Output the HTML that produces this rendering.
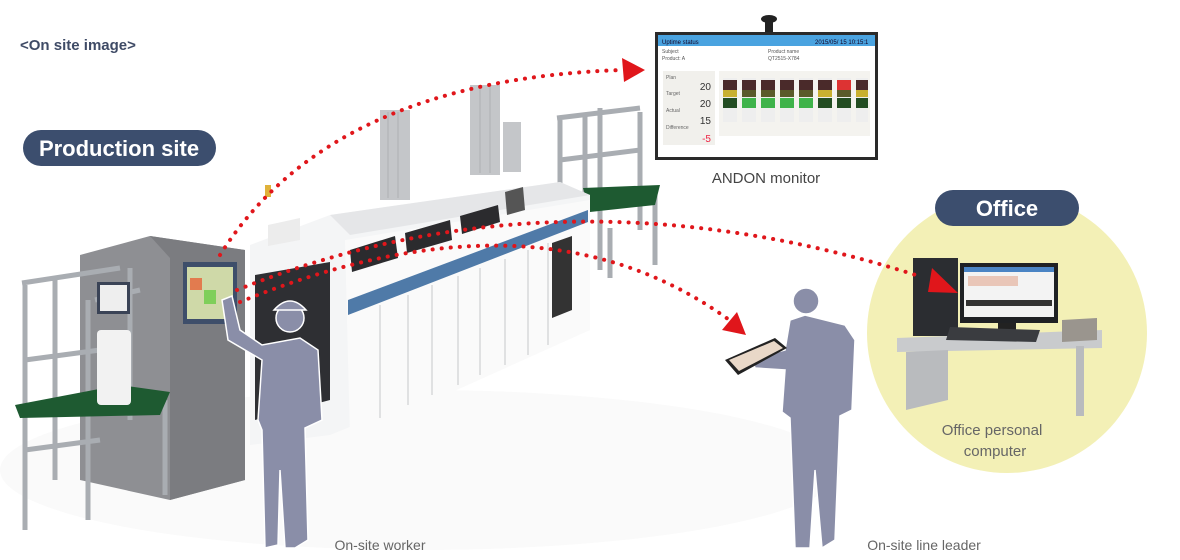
<!DOCTYPE html>
<html><head><meta charset="utf-8"><style>
html,body{margin:0;padding:0;background:#fff;}
svg{display:block;font-family:"Liberation Sans",sans-serif;}
</style></head><body>
<svg width="1180" height="560" viewBox="0 0 1180 560" xmlns="http://www.w3.org/2000/svg">
<rect width="1180" height="560" fill="#fff"/>
<ellipse cx="420" cy="470" rx="420" ry="80" fill="#fafafa"/>
<text x="20" y="50" font-size="15" font-weight="bold" fill="#3f4b66">&lt;On site image&gt;</text>
<rect x="23" y="130" width="193" height="36" rx="18" fill="#3c4e6e"/>
<text x="119" y="156" font-size="22" font-weight="bold" fill="#fff" text-anchor="middle">Production site</text>

<circle cx="1007" cy="333" r="140" fill="#f3f0b6"/>
<rect x="935" y="190" width="144" height="36" rx="18" fill="#3c4e6e"/>
<text x="1007" y="216" font-size="22" font-weight="bold" fill="#fff" text-anchor="middle">Office</text>
<polygon points="897,338 1102,330 1102,348 897,352" fill="#c9cbcd"/>
<polygon points="906,352 948,350 948,400 906,410" fill="#b9bbbe"/>
<rect x="1076" y="346" width="8" height="70" fill="#b9bbbe"/>
<rect x="913" y="258" width="45" height="78" fill="#2b2d31"/>
<rect x="960" y="263" width="98" height="60" fill="#1f2124"/>
<rect x="964" y="267" width="90" height="50" fill="#f3f3f3"/>
<rect x="964" y="267" width="90" height="5" fill="#4a84c4"/>
<rect x="968" y="276" width="50" height="10" fill="#e9c6b8"/>
<rect x="966" y="300" width="86" height="6" fill="#333"/>
<rect x="998" y="323" width="18" height="8" fill="#222"/>
<polygon points="950,327 1040,330 1036,342 946,340" fill="#3a3c40"/>
<polygon points="1062,320 1097,318 1097,340 1062,342" fill="#9a958e"/>
<text x="992" y="435" font-size="15" fill="#666" text-anchor="middle">Office personal</text>
<text x="995" y="456" font-size="15" fill="#666" text-anchor="middle">computer</text>

<g stroke="#a9adb2" stroke-width="5" fill="none">
<path d="M560 120 L560 190 M600 108 L600 270 M640 112 L640 230 M585 116 L585 240 M557 118 L640 108 M560 160 L640 150"/>
<path d="M610 228 L610 278 M655 195 L655 265"/>
</g>
<polygon points="583,188 660,185 655,205 590,212" fill="#1e5a31"/>

<polygon points="250,245 330,215 560,182 590,195 590,330 330,435 250,445" fill="#f4f5f6"/>
<polygon points="330,215 560,182 590,195 350,235" fill="#e5e6e8"/>
<polygon points="345,240 590,200 590,330 350,438" fill="#fafafa"/>
<polygon points="348,300 588,210 588,222 348,315" fill="#4f7aa8"/>
<g stroke="#d8d9db" stroke-width="1.5">
<line x1="380" y1="305" x2="380" y2="418"/><line x1="408" y1="295" x2="408" y2="405"/>
<line x1="432" y1="285" x2="432" y2="395"/><line x1="458" y1="276" x2="458" y2="385"/>
<line x1="480" y1="268" x2="480" y2="375"/><line x1="505" y1="259" x2="505" y2="365"/>
<line x1="528" y1="250" x2="528" y2="355"/><line x1="548" y1="243" x2="548" y2="345"/>
</g>
<polygon points="552,243 572,236 572,310 552,318" fill="#333"/>
<polygon points="350,250 395,236 398,258 352,272" fill="#2b2b2e"/>
<polygon points="405,233 450,220 452,240 407,253" fill="#2b2b2e"/>
<polygon points="460,216 498,205 500,222 462,234" fill="#2b2b2e"/>
<polygon points="505,192 523,187 525,210 507,215" fill="#555"/>
<polygon points="255,275 330,262 330,400 255,420" fill="#2e2f33"/>
<polygon points="268,225 300,218 300,240 268,246" fill="#ececec"/>
<rect x="265" y="185" width="6" height="12" fill="#e0b23a"/>
<rect x="380" y="110" width="30" height="90" fill="#c4c6c9"/>
<rect x="470" y="85" width="30" height="90" fill="#c4c6c9"/>
<rect x="503" y="122" width="18" height="50" fill="#c4c6c9"/>
<g stroke="#aeb0b4" stroke-width="1"><line x1="388" y1="112" x2="388" y2="198"/><line x1="398" y1="112" x2="398" y2="198"/><line x1="480" y1="87" x2="480" y2="173"/><line x1="490" y1="87" x2="490" y2="173"/></g>

<polygon points="80,255 150,236 245,250 245,480 170,500 80,480" fill="#8e8f93"/>
<polygon points="150,236 245,250 245,480 170,500 170,258" fill="#7b7c80"/>
<rect x="183" y="262" width="54" height="62" fill="#3e4e6a"/>
<rect x="187" y="267" width="46" height="52" fill="#cfd9a8"/>
<rect x="190" y="278" width="12" height="12" fill="#e27b4f"/><rect x="204" y="290" width="12" height="14" fill="#7fcf5a"/>
<g stroke="#a9adb2" stroke-width="5" fill="none">
<path d="M25 285 L25 530 M55 280 L55 480 M88 300 L88 520 M130 268 L130 420 M165 400 L165 495 M22 283 L120 268 M25 360 L100 350 M25 450 L100 440 M95 300 L140 290"/>
</g>
<polygon points="15,405 120,385 170,392 160,415 20,418" fill="#1e5a31"/>
<rect x="97" y="330" width="34" height="75" rx="4" fill="#f2f2f2"/>
<rect x="97" y="282" width="33" height="32" fill="#3a4356"/>
<rect x="100" y="285" width="27" height="26" fill="#eee"/>

<rect x="765" y="18" width="8" height="14" fill="#222"/>
<ellipse cx="769" cy="19" rx="8" ry="4" fill="#222"/>
<rect x="655" y="32" width="223" height="128" fill="#2a2a2a"/>
<rect x="658" y="35" width="217" height="122" fill="#fff"/>
<rect x="658" y="35" width="217" height="11" fill="#4aa3e0"/>
<text x="662" y="44" font-size="6" fill="#102">Uptime status</text>
<text x="815" y="44" font-size="6" fill="#102">2015/05/ 15 10:15:1</text>
<text x="662" y="53" font-size="5" fill="#555">Subject</text><text x="662" y="60" font-size="5" fill="#555">Product: A</text>
<text x="768" y="53" font-size="5" fill="#555">Product name</text><text x="768" y="60" font-size="5" fill="#555">QT2515-X784</text>
<rect x="663" y="71" width="52" height="74" fill="#f1f0ec"/>
<text x="666" y="79" font-size="5" fill="#666">Plan</text><text x="711" y="90" font-size="10" fill="#333" text-anchor="end">20</text>
<text x="666" y="95" font-size="5" fill="#666">Target</text><text x="711" y="107" font-size="10" fill="#333" text-anchor="end">20</text>
<text x="666" y="112" font-size="5" fill="#666">Actual</text><text x="711" y="124" font-size="10" fill="#333" text-anchor="end">15</text>
<text x="666" y="129" font-size="5" fill="#666">Difference</text><text x="711" y="142" font-size="10" fill="#e24" text-anchor="end">-5</text>
<rect x="719" y="71" width="151" height="65" fill="#f4f3ef"/>
<g>
<rect x="723" y="78" width="14" height="44" fill="#eee"/><rect x="723" y="80" width="14" height="10" fill="#4a2a2a"/><rect x="723" y="90" width="14" height="7" fill="#c8b030"/><rect x="723" y="98" width="14" height="10" fill="#234d22"/>
<rect x="742" y="78" width="14" height="44" fill="#eee"/><rect x="742" y="80" width="14" height="10" fill="#4a2a2a"/><rect x="742" y="90" width="14" height="7" fill="#5a5a2a"/><rect x="742" y="98" width="14" height="10" fill="#3fb34a"/>
<rect x="761" y="78" width="14" height="44" fill="#eee"/><rect x="761" y="80" width="14" height="10" fill="#4a2a2a"/><rect x="761" y="90" width="14" height="7" fill="#5a5a2a"/><rect x="761" y="98" width="14" height="10" fill="#3fb34a"/>
<rect x="780" y="78" width="14" height="44" fill="#eee"/><rect x="780" y="80" width="14" height="10" fill="#4a2a2a"/><rect x="780" y="90" width="14" height="7" fill="#5a5a2a"/><rect x="780" y="98" width="14" height="10" fill="#3fb34a"/>
<rect x="799" y="78" width="14" height="44" fill="#eee"/><rect x="799" y="80" width="14" height="10" fill="#4a2a2a"/><rect x="799" y="90" width="14" height="7" fill="#5a5a2a"/><rect x="799" y="98" width="14" height="10" fill="#3fb34a"/>
<rect x="818" y="78" width="14" height="44" fill="#eee"/><rect x="818" y="80" width="14" height="10" fill="#4a2a2a"/><rect x="818" y="90" width="14" height="7" fill="#c8b030"/><rect x="818" y="98" width="14" height="10" fill="#234d22"/>
<rect x="837" y="78" width="14" height="44" fill="#eee"/><rect x="837" y="80" width="14" height="10" fill="#d33"/><rect x="837" y="90" width="14" height="7" fill="#5a5a2a"/><rect x="837" y="98" width="14" height="10" fill="#234d22"/>
<rect x="856" y="78" width="12" height="44" fill="#eee"/><rect x="856" y="80" width="12" height="10" fill="#4a2a2a"/><rect x="856" y="90" width="12" height="7" fill="#c8b030"/><rect x="856" y="98" width="12" height="10" fill="#234d22"/>
</g>
<text x="766" y="183" font-size="15" fill="#444" text-anchor="middle">ANDON monitor</text>

<g fill="#8a8ea8" stroke="#fff" stroke-width="1.5">
<path d="M222,300 L232,296 L240,330 L262,345 L300,338 L318,350 L322,420 L305,428 L308,540 L295,548 L285,548 L280,470 L278,545 L265,548 L262,430 L258,420 L262,360 L228,340 Z"/>
<circle cx="290" cy="318" r="14"/>
<path d="M274,310 Q290,292 306,310 Z"/>
<path d="M790,320 L805,315 L845,325 L855,340 L852,410 L840,416 L835,540 L822,548 L815,470 L810,548 L795,548 L790,418 L782,412 L785,370 L755,368 L752,358 L785,350 Z"/>
<circle cx="806" cy="301" r="13"/>
</g>
<polygon points="725,360 775,338 787,348 738,375" fill="#222"/>
<polygon points="729,360 774,341 783,348 739,371" fill="#e9d8c8"/>
<text x="380" y="550" font-size="14" fill="#666" text-anchor="middle">On-site worker</text>
<text x="924" y="550" font-size="14" fill="#666" text-anchor="middle">On-site line leader</text>

<g fill="none" stroke="#e0161b" stroke-width="4" stroke-linecap="round" stroke-dasharray="0.1 9">
<path d="M220,255 Q330,80 622,70"/>
<path d="M237,290 Q560,160 922,277"/>
<path d="M240,302 Q540,180 732,322"/>
</g>
<g fill="#e0161b">
<polygon points="645,70 622,58 624,82"/>
<polygon points="958,293 932,268 928,292"/>
<polygon points="746,335 737,312 722,330"/>
</g>
</svg>
</body></html>
